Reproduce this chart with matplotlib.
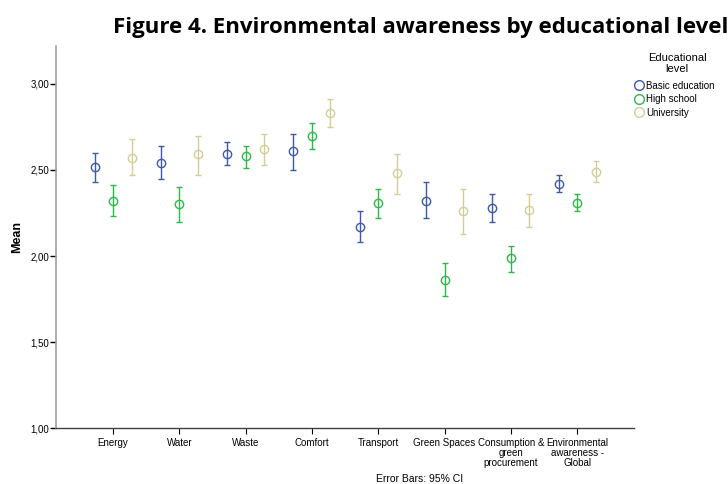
import matplotlib.pyplot as plt
from matplotlib.lines import Line2D
import numpy as np

categories = ['Energy', 'Water', 'Waste', 'Comfort', 'Transport', 'Green Spaces',
              'Consumption &\ngreen\nprocurement', 'Environmental\nawareness -\nGlobal']
groups = ['Basic education', 'High school', 'University']
colors = ['#3e58ac', '#2eb848', '#d3ce97']

# group means
basic_mean = [2.52, 2.54, 2.59, 2.61, 2.17, 2.32, 2.28, 2.42]
high_mean = [2.32, 2.30, 2.58, 2.70, 2.31, 1.86, 1.99, 2.31]
univ_mean = [2.57, 2.59, 2.62, 2.83, 2.48, 2.26, 2.27, 2.49]

# 95% CI bounds
basic_lo = [2.43, 2.45, 2.53, 2.50, 2.08, 2.22, 2.20, 2.37]
basic_hi = [2.60, 2.64, 2.66, 2.71, 2.26, 2.43, 2.36, 2.47]
high_lo = [2.23, 2.20, 2.51, 2.62, 2.22, 1.77, 1.91, 2.26]
high_hi = [2.41, 2.40, 2.64, 2.77, 2.39, 1.96, 2.06, 2.36]
univ_lo = [2.47, 2.47, 2.53, 2.75, 2.36, 2.13, 2.17, 2.43]
univ_hi = [2.68, 2.70, 2.71, 2.91, 2.59, 2.39, 2.36, 2.55]

means = [basic_mean, high_mean, univ_mean]
lows = [basic_lo, high_lo, univ_lo]
highs = [basic_hi, high_hi, univ_hi]

fig = plt.figure(figsize=(7.28, 4.84), dpi=100)
ax = fig.add_axes([0.077, 0.115, 0.794, 0.790])

x = np.arange(len(categories))
offsets = [-0.28, 0.0, 0.28]
for i in range(3):
    m = np.array(means[i])
    err = [m - np.array(lows[i]), np.array(highs[i]) - m]
    ax.errorbar(x + offsets[i], m, yerr=err, fmt='o', mfc='none', mec=colors[i],
                ecolor=colors[i], ms=6, mew=1.0, elinewidth=1.0, capsize=2.5,
                capthick=1.0)

ax.set_xlim(-0.86, 7.86)
ax.set_ylim(1.0, 3.22)
ax.set_yticks([1.0, 1.5, 2.0, 2.5, 3.0])
ax.set_yticklabels(['1,00', '1,50', '2,00', '2,50', '3,00'])
ax.set_xticks(x)
ax.set_xticklabels(categories, fontsize=7, family='Liberation Sans', linespacing=1.0)
ax.tick_params(axis='y', labelsize=7, length=4, width=1, pad=1)
ax.tick_params(axis='x', length=4, width=0.8, pad=3, direction='out')
for lab in ax.get_yticklabels():
    lab.set_family('Liberation Sans')

ax.spines['top'].set_visible(False)
ax.spines['right'].set_visible(False)
ax.spines['left'].set_color('#a0a0a0')
ax.spines['left'].set_linewidth(1.2)
ax.spines['bottom'].set_color('#404040')
ax.spines['bottom'].set_linewidth(1.0)

ax.set_ylabel('Mean', fontsize=9, fontweight='bold', family='Liberation Sans', labelpad=5)

fig.text(0.155, 0.943, 'Figure 4. Environmental awareness by educational level',
         fontsize=16, fontweight='bold', family='Open Sans', va='center', ha='left')
fig.text(0.577, 0.0103, 'Error Bars: 95% CI', fontsize=7.5, family='Liberation Sans',
         ha='center', va='center')

# legend title drawn separately so it sits a little above the entries
fig.text(0.930, 0.868, 'Educational\nlevel', fontsize=8, family='Liberation Sans',
         ha='center', va='center', multialignment='center', linespacing=1.1)
handles = [Line2D([], [], ls='none', marker='o', mfc='none', mec=c, ms=7, mew=1.0)
           for c in colors]
leg = fig.legend(handles, groups, loc='upper left', bbox_to_anchor=(0.871, 0.833),
                 frameon=False, fontsize=7, handletextpad=0.2,
                 handlelength=1.0, labelspacing=0.35, borderaxespad=0, borderpad=0)
for t in leg.get_texts():
    t.set_family('Liberation Sans')

fig.savefig('out.png', dpi=100)
